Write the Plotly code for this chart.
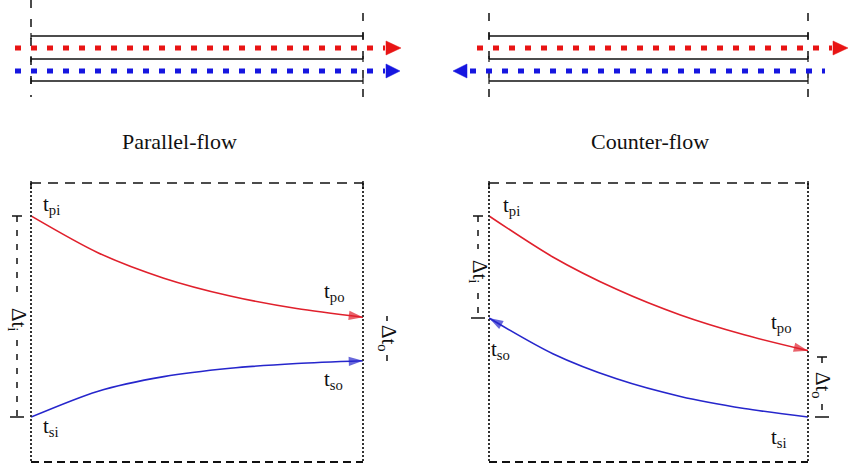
import plotly.graph_objects as go

W, H = 849, 464

# ---- data: temperature profiles along the exchanger length (normalised) ----
positions = [0.0, 0.2, 0.4, 0.6, 0.8, 1.0]
parallel_hot = [88.2, 75.1, 65.9, 59.5, 55.0, 51.9]
parallel_cold = [16.1, 25.3, 30.6, 33.6, 35.3, 36.3]
counter_hot = [88.2, 73.5, 61.9, 52.7, 45.6, 39.9]
counter_cold = [51.6, 38.8, 29.8, 23.5, 19.2, 16.1]   # indexed by position

panel_titles = ["Parallel-flow", "Counter-flow"]

RED_CURVE = "#e0202c"
BLUE_CURVE = "#2626cc"
RED_DOT = "#e81414"
BLUE_DOT = "#1616e0"
INK = "#111111"
FONT = "Liberation Serif"


def X(px):
    return px / W


def Y(py):
    return 1 - py / H


fig = go.Figure()


def arrow_sizes(n):
    return [0] * (n - 1) + [15]


def add_curve(xs, ys, color, xa, ya):
    fig.add_trace(go.Scatter(
        x=xs, y=ys, mode="lines+markers", xaxis=xa, yaxis=ya,
        line=dict(color=color, width=1.6, shape="spline", smoothing=0.8),
        marker=dict(symbol="arrow", size=arrow_sizes(len(xs)), color=color,
                    angleref="previous", line=dict(width=0)),
        cliponaxis=False, showlegend=False, hoverinfo="skip"))


# parallel flow (left panel)
add_curve(positions, parallel_hot, RED_CURVE, "x", "y")
add_curve(positions, parallel_cold, BLUE_CURVE, "x", "y")
# counter flow (right panel): cold stream flows from right to left
add_curve(positions, counter_hot, RED_CURVE, "x2", "y2")
add_curve(positions[::-1], counter_cold[::-1], BLUE_CURVE, "x2", "y2")

shapes = []


def line(x0, y0, x1, y1, color=INK, width=1.5, dash="solid"):
    shapes.append(dict(type="line", xref="paper", yref="paper",
                       x0=X(x0), y0=Y(y0), x1=X(x1), y1=Y(y1),
                       line=dict(color=color, width=width, dash=dash)))


def tri(pts, color):
    p = "M" + " L".join(f"{X(a):.5f},{Y(b):.5f}" for a, b in pts) + " Z"
    shapes.append(dict(type="path", xref="paper", yref="paper", path=p,
                       fillcolor=color, line=dict(color=color, width=0.5)))


panels = [(31, 363), (489, 808)]
for (L, R) in panels:
    # pipe walls
    for yy in (36, 59, 81):
        line(L, yy, R, yy, width=1.6)
        line(L, yy - 3, L, yy + 3, width=1.2)
        line(R, yy - 3, R, yy + 3, width=1.2)
    # lower panel frame
    line(L, 183, R, 183, dash="10px,7px", width=1.5)
    line(L, 462, R, 462, dash="8px,5px", width=2)
    line(L, 183, L, 462, dash="2px,2px", width=2, color="#333")
    line(R, 183, R, 462, dash="2px,2px", width=2, color="#333")
    line(L, 181, L, 189, width=1.5)
    line(R, 181, R, 189, width=1.5)

# vertical dashed guide lines in the pipe sketches
line(31, 0, 31, 97, dash="8px,11px", width=1.5)
line(363, 13, 363, 97, dash="8px,11px", width=1.5)
line(489, 13, 489, 97, dash="8px,11px", width=1.5)
line(808, 13, 808, 97, dash="8px,11px", width=1.5)

# flow arrows (dotted streams)
line(15, 48, 385, 48, color=RED_DOT, width=5, dash="6px,10px")
line(15, 71, 385, 71, color=BLUE_DOT, width=5, dash="6px,10px")
tri([(386, 41), (401, 48), (386, 55)], RED_DOT)
tri([(386, 64), (400, 71), (386, 78)], BLUE_DOT)
line(477, 48, 832, 48, color=RED_DOT, width=5, dash="6px,10px")
line(470, 71, 825, 71, color=BLUE_DOT, width=5, dash="6px,10px")
tri([(833, 41), (848, 48), (833, 55)], RED_DOT)
tri([(467, 64), (453, 71), (467, 78)], BLUE_DOT)


# temperature difference dimension lines
def dim(x, y0, y1, gap0, gap1):
    line(x - 5, y0, x + 5, y0, width=1.5)
    line(x, y0, x, gap0, dash="6px,8px", width=1.5)
    line(x, gap1, x, y1, dash="6px,8px", width=1.5)
    line(x - 7, y1, x + 7, y1, width=1.5)


dim(17, 216, 417, 299, 340)
dim(478, 216, 318, 249, 293)
dim(822, 357, 417, 366, 404)
line(387, 316, 387, 321, width=1.5)
line(387, 355, 387, 361, width=1.5)

annotations = []


def text(x, y, s, size=21, angle=0, xanchor="left"):
    annotations.append(dict(x=X(x), y=Y(y), xref="paper", yref="paper", text=s,
                            showarrow=False, xanchor=xanchor, yanchor="middle",
                            textangle=angle,
                            font=dict(family=FONT, size=size, color=INK)))


text(179, 141, panel_titles[0], size=22, xanchor="center")
text(650, 141, panel_titles[1], size=22, xanchor="center")

text(41, 205, "t<sub>pi</sub>")
text(322, 292, "t<sub>po</sub>")
text(322, 380, "t<sub>so</sub>")
text(41, 427, "t<sub>si</sub>")
text(501, 206, "t<sub>pi</sub>")
text(769, 323, "t<sub>po</sub>")
text(489, 350, "t<sub>so</sub>")
text(769, 438, "t<sub>si</sub>")

text(18, 319, "Δt<sub>i</sub>", size=21, angle=90, xanchor="center")
text(479, 271, "Δt<sub>i</sub>", size=21, angle=90, xanchor="center")
text(388, 338, "Δt<sub>o</sub>", size=21, angle=90, xanchor="center")
text(822, 385, "Δt<sub>o</sub>", size=21, angle=90, xanchor="center")

ydom = [Y(462), Y(183)]
fig.update_layout(
    width=W, height=H, margin=dict(l=0, r=0, t=0, b=0),
    paper_bgcolor="white", plot_bgcolor="rgba(0,0,0,0)",
    showlegend=False,
    xaxis=dict(domain=[X(31), X(363)], range=[0, 1], visible=False),
    yaxis=dict(domain=ydom, range=[0, 100], visible=False),
    xaxis2=dict(domain=[X(489), X(808)], range=[0, 1], visible=False, anchor="y2"),
    yaxis2=dict(domain=ydom, range=[0, 100], visible=False, anchor="x2"),
    shapes=shapes, annotations=annotations,
)

fig.write_html("out.html")
